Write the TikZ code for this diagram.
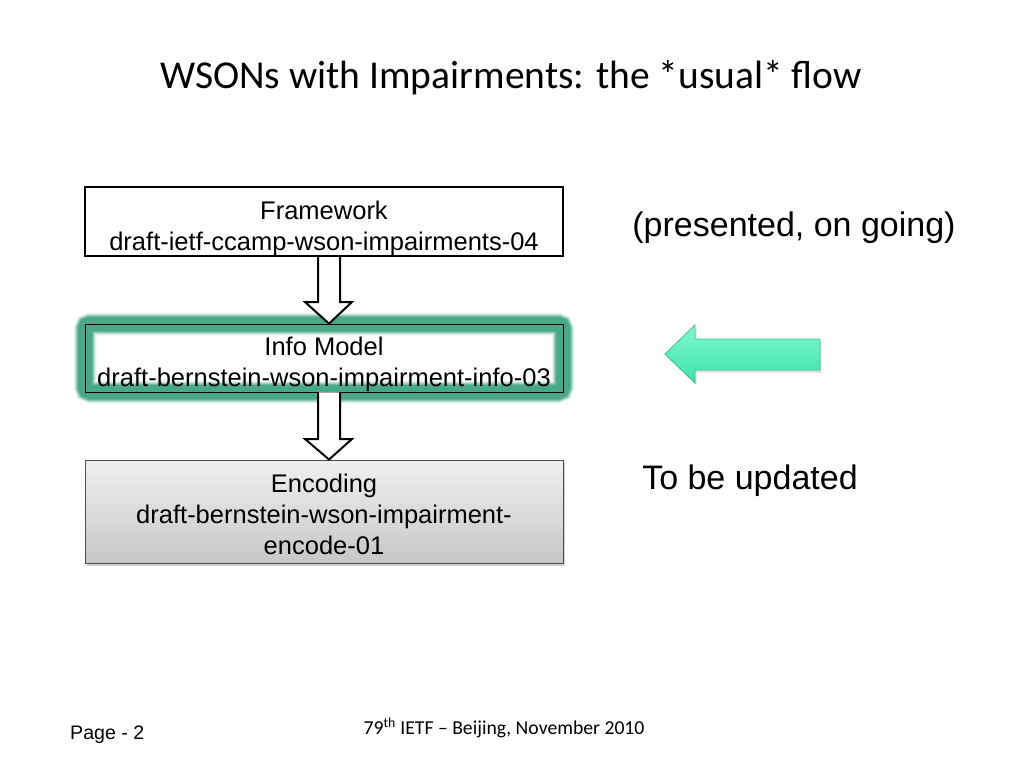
\documentclass[tikz,border=0pt]{standalone}
\usepackage{fontspec}
\setmainfont{Liberation Sans}
\newfontfamily\calibri[Ligatures=TeX]{Carlito}
\usetikzlibrary{shadows}
\definecolor{glowteal}{RGB}{72,168,138}
\definecolor{mintlight}{RGB}{130,248,210}
\definecolor{mintdark}{RGB}{60,225,170}
\definecolor{mintedge}{RGB}{50,200,150}
\tikzset{
  flowbox/.style={draw=black, minimum width=478pt, inner sep=0pt},
  boxtext/.style={align=center, inner sep=0pt, font=\fontsize{25.5}{31}\selectfont},
  blockarrow/.style={draw=black, line width=2pt, fill=white, line join=miter},
  plain/.style={inner sep=0pt, align=center},
  glow/.style={glowteal, rounded corners=5pt}
}
\begin{document}
\begin{tikzpicture}[x=1pt,y=-1pt]
\useasboundingbox[fill=white] (0,0) rectangle (1024,768);
% title
\node[plain, font=\calibri\fontsize{39.5}{44}\selectfont] (title) at (511,78) {WSONs with Impairments: the *usual* flow};
% boxes
\node[flowbox, line width=2pt, minimum height=69pt, fill=white] (fw) at (324,221.5) {};
\node[boxtext] (fwt) at ([yshift=-6.5pt]fw.center) {Framework\\draft-ietf-ccamp-wson-impairments-04};
% glow for info box
\draw[glow, line width=23pt, opacity=0.08] (85,324) rectangle (563,392);
\draw[glow, line width=21pt, opacity=0.15] (85,324) rectangle (563,392);
\draw[glow, line width=19pt, opacity=0.3] (85,324) rectangle (563,392);
\draw[glow, line width=17pt, opacity=0.5] (85,324) rectangle (563,392);
\draw[glow, line width=15pt, opacity=0.75] (85,324) rectangle (563,392);
\draw[glow, line width=13pt] (85,324) rectangle (563,392);
\node[flowbox, line width=0.8pt, minimum height=68pt] (im) at (324,358) {};
\node[boxtext] (imt) at ([yshift=-6pt]im.center) {Info Model\\draft-bernstein-wson-impairment-info-03};
\node[flowbox, draw=black!70, line width=1pt, minimum height=103pt,
  top color=white!94!black, bottom color=white!78!black,
  drop shadow={shadow xshift=2pt, shadow yshift=-3pt, opacity=0.35}] (enc) at (324,511.5) {};
\node[boxtext] (enct) at ([yshift=-2.5pt]enc.center) {Encoding\\draft-bernstein-wson-impairment-\\encode-01};
% block arrows
\draw[blockarrow] (fw.south -| 318,0) -- (318,302) -- (305,302) -- (im.north -| 329,0)
  -- (352,302) -- (340,302) -- (fw.south -| 340,0);
\draw[blockarrow] (im.south -| 318,0) -- (318,439) -- (305,439) -- (enc.north -| 329,0)
  -- (352,439) -- (340,439) -- (im.south -| 340,0);
% green arrow
\draw[mintedge, line width=0.8pt, top color=mintlight, bottom color=mintdark,
  drop shadow={shadow xshift=1.5pt, shadow yshift=-2.5pt, opacity=0.25}]
  (665,354) -- (695,325) -- (695,339) -- (820,339) -- (820,370) -- (695,370) -- (695,383) -- cycle;
% side texts
\node[plain, font=\fontsize{34}{38}\selectfont] (pres) at (794,228) {(presented, on going)};
\node[plain, font=\fontsize{34}{38}\selectfont] (upd) at (750,481) {To be updated};
% footer
\node[plain, anchor=west, font=\fontsize{19.6}{22}\selectfont] (page) at (70,735) {Page - 2};
\node[plain, font=\calibri\fontsize{19.7}{22}\selectfont] (foot) at (504,728) {79\textsuperscript{th} IETF – Beijing, November 2010};
\end{tikzpicture}
\end{document}
